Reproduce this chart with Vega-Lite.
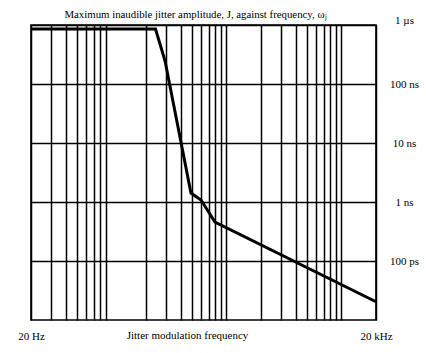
{
  "$schema": "https://vega.github.io/schema/vega-lite/v6.json",
  "width": 345,
  "height": 295,
  "autosize": {"type": "none"},
  "padding": {"left": 31, "top": 25, "right": 50, "bottom": 33},
  "background": "white",
  "config": {
    "view": {"stroke": "black", "strokeWidth": 1.6},
    "font": "Liberation Serif"
  },
  "title": {
    "text": "Maximum inaudible jitter amplitude, J, against frequency, ωⱼ",
    "font": "Liberation Serif",
    "fontSize": 10.8,
    "fontWeight": "normal",
    "color": "black",
    "anchor": "middle",
    "dx": -8,
    "offset": -6
  },
  "data": {
    "values": [
      {"freq": 20, "jitter": 8.55e-7},
      {"freq": 242, "jitter": 8.55e-7},
      {"freq": 293, "jitter": 2.45e-7},
      {"freq": 492, "jitter": 1.42e-9},
      {"freq": 602, "jitter": 1.08e-9},
      {"freq": 796, "jitter": 4.58e-10},
      {"freq": 20000, "jitter": 2.04e-11}
    ]
  },
  "mark": {"type": "line", "color": "black", "strokeWidth": 3, "strokeJoin": "miter"},
  "encoding": {
    "x": {
      "field": "freq",
      "type": "quantitative",
      "scale": {"type": "log", "domain": [20, 20000], "nice": false},
      "axis": {
        "values": [20, 30, 40, 50, 60, 70, 80, 90, 200, 300, 400, 500, 600, 700, 800, 900, 1000, 2000, 3000, 4000, 5000, 6000, 7000, 8000, 9000, 10000, 20000],
        "grid": true,
        "gridColor": "black",
        "gridOpacity": 1,
        "gridWidth": 1.5,
        "domain": false,
        "ticks": false,
        "tickSize": 0,
        "labelExpr": "datum.value == 20 ? '20 Hz' : (datum.value == 20000 ? '20 kHz' : '')",
        "labelFlush": false,
        "labelOverlap": false,
        "labelFont": "Liberation Serif",
        "labelFontSize": 11,
        "labelColor": "black",
        "labelPadding": 10,
        "title": "Jitter modulation frequency",
        "titleFont": "Liberation Serif",
        "titleFontSize": 11,
        "titleFontWeight": "normal",
        "titleColor": "black",
        "titleX": 156,
        "titleY": 15,
        "titleBaseline": "middle"
      }
    },
    "y": {
      "field": "jitter",
      "type": "quantitative",
      "scale": {"type": "log", "domain": [1e-11, 1e-6], "nice": false},
      "axis": {
        "orient": "right",
        "values": [1e-6, 1e-7, 1e-8, 1e-9, 1e-10],
        "grid": true,
        "gridColor": "black",
        "gridOpacity": 1,
        "gridWidth": 1.5,
        "domain": false,
        "ticks": false,
        "tickSize": 0,
        "labelExpr": "datum.value > 5e-7 ? '1 µs' : (datum.value > 5e-8 ? '100 ns' : (datum.value > 5e-9 ? '10 ns' : (datum.value > 5e-10 ? '1 ns' : '100 ps')))",
        "labelAlign": "center",
        "labelBaseline": {"condition": {"test": "datum.value > 5e-7", "value": "bottom"}, "value": "middle"},
        "labelFlush": false,
        "labelOverlap": false,
        "labelFont": "Liberation Serif",
        "labelFontSize": 11,
        "labelColor": "black",
        "labelPadding": 28,
        "title": null
      }
    }
  }
}
